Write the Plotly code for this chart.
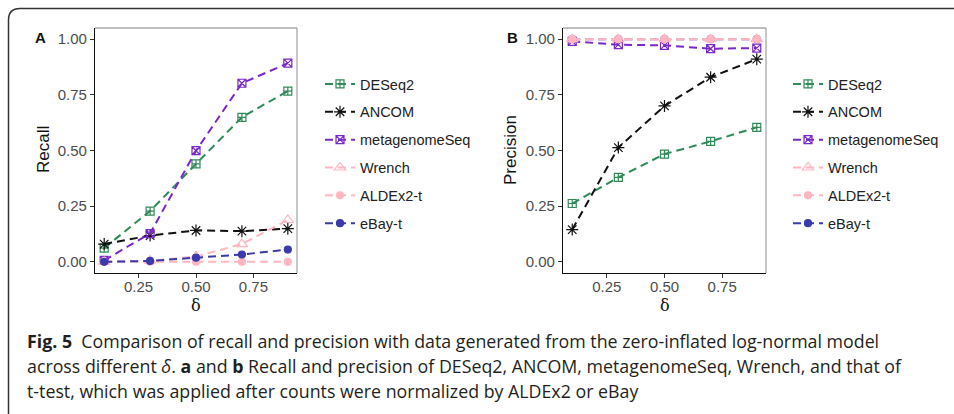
import plotly.graph_objects as go

W, H = 954, 414

delta = [0.1, 0.3, 0.5, 0.7, 0.9]
methods = ["DESeq2", "ANCOM", "metagenomeSeq", "Wrench", "ALDEx2-t", "eBay-t"]

recall_deseq2 = [0.062, 0.228, 0.440, 0.649, 0.767]
recall_ancom = [0.080, 0.118, 0.141, 0.138, 0.149]
recall_metagenomeseq = [0.007, 0.127, 0.499, 0.802, 0.892]
recall_wrench = [0.0, 0.005, 0.024, 0.080, 0.188]
recall_aldex2 = [0.0, 0.0, 0.0, 0.0, 0.0]
recall_ebay = [0.0, 0.004, 0.019, 0.033, 0.055]

precision_deseq2 = [0.262, 0.379, 0.484, 0.541, 0.604]
precision_ancom = [0.145, 0.513, 0.700, 0.829, 0.910]
precision_metagenomeseq = [0.990, 0.975, 0.972, 0.957, 0.960]
precision_wrench = [1.0, 1.0, 1.0, 1.0, 1.0]
precision_aldex2 = [1.0, 1.0, 1.0, 1.0, 1.0]
precision_ebay = [1.0, 1.0, 1.0, 1.0, 1.0]

tick_vals_x = [0.25, 0.50, 0.75]
tick_text_x = ["0.25", "0.50", "0.75"]
tick_vals_y = [0.0, 0.25, 0.50, 0.75, 1.00]
tick_text_y = ["0.00", "0.25", "0.50", "0.75", "1.00"]

colors = ["#2E8B57", "#111111", "#7B28C8", "#FFB6C1", "#FFB6C1", "#3A3AAA"]
symbols = ["square-cross-open", "asterisk-open", "square-x-open",
           "triangle-up-open", "circle", "circle"]
msizes = [8, 10, 8, 10, 7, 7]

recall = [recall_deseq2, recall_ancom, recall_metagenomeseq,
          recall_wrench, recall_aldex2, recall_ebay]
precision = [precision_deseq2, precision_ancom, precision_metagenomeseq,
             precision_wrench, precision_aldex2, precision_ebay]


def px(x):
    return x / W


def py(y):
    return 1 - y / H


fig = go.Figure()

# panel A traces
for i, m in enumerate(methods):
    fig.add_trace(go.Scatter(
        x=delta, y=recall[i], name=m, mode="lines+markers",
        line=dict(color=colors[i], width=2, dash="8px,5px"),
        marker=dict(symbol=symbols[i], size=msizes[i], color=colors[i],
                    line=dict(width=1.2, color=colors[i])),
        xaxis="x", yaxis="y", legend="legend", legendgroup="a" + m,
        legendrank=i + 1,
    ))

# panel B traces (eBay drawn first so pink marks sit on top)
orderB = [5, 0, 1, 2, 3, 4]
for i in orderB:
    m = methods[i]
    fig.add_trace(go.Scatter(
        x=delta, y=precision[i], name=m, mode="lines+markers",
        line=dict(color=colors[i], width=2, dash="8px,5px"),
        marker=dict(symbol=symbols[i], size=msizes[i], color=colors[i],
                    line=dict(width=1.2, color=colors[i])),
        xaxis="x2", yaxis="y2", legend="legend2", legendgroup="b" + m,
        legendrank=i + 1,
    ))

axis_common = dict(
    range=[0.06, 0.94], tickvals=tick_vals_x, ticktext=tick_text_x,
    showgrid=False, zeroline=False, showline=True, linecolor="#111111",
    linewidth=1.3, ticks="outside", ticklen=4, tickcolor="#333333",
    tickwidth=1.2, ticklabelstandoff=-4,
    tickfont=dict(family="Liberation Sans, Arial", size=15, color="#4D4D4D"),
)
yaxis_common = dict(
    range=[-0.05, 1.05], tickvals=tick_vals_y, ticktext=tick_text_y,
    showgrid=False, zeroline=False, showline=True, linecolor="#111111",
    linewidth=1.3, ticks="outside", ticklen=4, tickcolor="#333333",
    tickwidth=1.2, tickfont=dict(family="Liberation Sans, Arial", size=15, color="#4D4D4D"),
)

legend_common = dict(
    font=dict(family="Liberation Sans, Arial", size=14.5, color="#222222"),
    bgcolor="rgba(0,0,0,0)", traceorder="grouped", tracegroupgap=6,
    yanchor="top", xanchor="left", itemwidth=30,
)

fig.update_layout(
    width=W, height=H, margin=dict(l=0, r=0, t=0, b=0),
    paper_bgcolor="white", plot_bgcolor="white",
    showlegend=True,
    xaxis=dict(domain=[px(95), px(297)], anchor="y", **axis_common),
    yaxis=dict(domain=[py(273), py(28)], anchor="x", **yaxis_common),
    xaxis2=dict(domain=[px(563), px(766)], anchor="y2", **axis_common),
    yaxis2=dict(domain=[py(273), py(28)], anchor="x2", **yaxis_common),
    legend=dict(x=px(320), y=py(68), **legend_common),
    legend2=dict(x=px(788), y=py(68), **legend_common),
)

# gray top/right box
for xr, yr in [("x domain", "y domain"), ("x2 domain", "y2 domain")]:
    fig.add_shape(type="line", xref=xr, yref=yr, x0=0, x1=1, y0=1, y1=1,
                  line=dict(color="#A8A8A8", width=1.3))
    fig.add_shape(type="line", xref=xr, yref=yr, x0=1, x1=1, y0=0, y1=1,
                  line=dict(color="#A8A8A8", width=1.3))

# outer rounded border (top-left corner)
fig.add_shape(
    type="path", xref="paper", yref="paper",
    path=(f"M {px(8.5)},{py(430)} L {px(8.5)},{py(20)} "
          f"Q {px(8.5)},{py(8.5)} {px(20)},{py(8.5)} L {px(970)},{py(8.5)}"),
    line=dict(color="#333333", width=1.5),
)

ann = []
font_axis = dict(family="Liberation Sans, Arial", size=17, color="#111111")
ann.append(dict(text="Recall", x=px(43), y=py(150), xref="paper", yref="paper",
                xanchor="center", yanchor="middle",
                textangle=-90, showarrow=False, font=font_axis))
ann.append(dict(text="Precision", x=px(510), y=py(150), xref="paper", yref="paper",
                xanchor="center", yanchor="middle",
                textangle=-90, showarrow=False, font=font_axis))
font_delta = dict(family="DejaVu Serif, Liberation Serif", size=16, color="#111111")
ann.append(dict(text="δ", x=px(196), y=py(305), xref="paper", yref="paper",
                xanchor="center", yanchor="middle",
                showarrow=False, font=font_delta))
ann.append(dict(text="δ", x=px(665), y=py(305), xref="paper", yref="paper",
                xanchor="center", yanchor="middle",
                showarrow=False, font=font_delta))
font_lab = dict(family="Liberation Sans, Arial", size=15, color="#111111")
ann.append(dict(text="<b>A</b>", x=px(40), y=py(38), xref="paper", yref="paper",
                xanchor="center", yanchor="middle",
                showarrow=False, font=font_lab))
ann.append(dict(text="<b>B</b>", x=px(512), y=py(38), xref="paper", yref="paper",
                xanchor="center", yanchor="middle",
                showarrow=False, font=font_lab))

cap_font = dict(family="Open Sans", size=17.8, color="#231F20")
cap_lines = [
    "<b>Fig. 5</b>  Comparison of recall and precision with data generated from the zero-inflated log-normal model",
    "across different <i>δ</i>. <b>a</b> and <b>b</b> Recall and precision of DESeq2, ANCOM, metagenomeSeq, Wrench, and that of",
    "t-test, which was applied after counts were normalized by ALDEx2 or eBay",
]
cap_y = [341, 366, 391]
for t, yy in zip(cap_lines, cap_y):
    ann.append(dict(text=t, x=px(25), y=py(yy), xref="paper", yref="paper",
                    xanchor="left", yanchor="middle", showarrow=False, font=cap_font))

fig.update_layout(annotations=ann)

fig.write_html("out.html")
